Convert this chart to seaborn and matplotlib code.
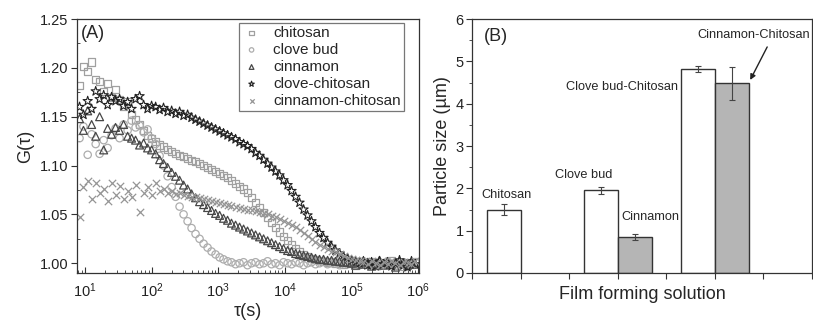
import numpy as np
import pandas as pd
import matplotlib
matplotlib.use("Agg")
import matplotlib.pyplot as plt
from matplotlib.ticker import MultipleLocator, FormatStrFormatter, NullFormatter, LogLocator
import seaborn as sns

# ---------------- data: panel A (correlation functions) ----------------
TAU = [8.3, 9.5, 11.0, 12.6, 14.5, 16.6, 19.1, 21.9, 25.1, 28.8,
       33.1, 38.0, 43.7, 50.1, 57.5, 66.1, 75.9, 87.1, 100, 115,
       132, 151, 174, 200, 229, 263, 302, 347, 398, 457,
       525, 603, 692, 794, 912, 1.05e3, 1.20e3, 1.38e3, 1.58e3, 1.82e3,
       2.09e3, 2.40e3, 2.75e3, 3.16e3, 3.63e3, 4.17e3, 4.79e3, 5.50e3, 6.31e3, 7.24e3,
       8.32e3, 9.55e3, 1.10e4, 1.26e4, 1.45e4, 1.66e4, 1.91e4, 2.19e4, 2.51e4, 2.88e4,
       3.31e4, 3.80e4, 4.37e4, 5.01e4, 5.75e4, 6.61e4, 7.59e4, 8.71e4, 1.00e5, 1.15e5,
       1.32e5, 1.51e5, 1.74e5, 2.00e5, 2.29e5, 2.63e5, 3.02e5, 3.47e5, 3.98e5, 4.57e5,
       5.25e5, 6.03e5, 6.92e5, 7.94e5, 9.12e5]

G_CHITOSAN = [1.182, 1.201, 1.196, 1.206, 1.188, 1.186, 1.176, 1.184, 1.170, 1.178,
              1.168, 1.160, 1.166, 1.152, 1.147, 1.142, 1.136, 1.131, 1.128, 1.125,
              1.121, 1.119, 1.116, 1.114, 1.112, 1.110, 1.109, 1.107, 1.105, 1.104,
              1.102, 1.100, 1.098, 1.096, 1.094, 1.092, 1.090, 1.088, 1.085, 1.082,
              1.079, 1.076, 1.072, 1.067, 1.062, 1.057, 1.052, 1.047, 1.042, 1.037,
              1.032, 1.027, 1.023, 1.019, 1.015, 1.012, 1.009, 1.007, 1.005, 1.004,
              1.003, 1.002, 1.001, 1.002, 1.000, 1.001, 0.999, 1.002, 1.000, 0.998,
              1.001, 1.000, 0.999, 1.002, 0.998, 1.000, 1.001, 0.999, 1.003, 0.998,
              1.000, 0.997, 1.001, 0.999, 1.002]

G_CLOVE = [1.128, 1.140, 1.111, 1.132, 1.122, 1.112, 1.126, 1.118, 1.131, 1.138,
           1.128, 1.142, 1.136, 1.146, 1.139, 1.141, 1.134, 1.137, 1.128, 1.122,
           1.110, 1.100, 1.089, 1.078, 1.068, 1.058, 1.050, 1.043, 1.036, 1.030,
           1.025, 1.020, 1.016, 1.012, 1.009, 1.006, 1.004, 1.002, 1.001, 0.999,
           1.000, 1.001, 0.998, 1.000, 1.001, 0.999, 1.000, 1.002, 0.999, 1.000,
           0.998, 1.001, 1.000, 0.999, 1.001, 1.000, 0.998, 1.000, 1.001, 0.999,
           1.000, 1.002, 0.999, 1.000, 1.001, 0.998, 1.000, 0.999, 1.001, 1.000,
           0.998, 1.002, 1.000, 0.999, 1.001, 0.997, 1.000, 1.002, 0.999, 1.000,
           0.998, 1.001, 1.000, 0.999, 1.001]

G_CINNAMON = [1.148, 1.136, 1.156, 1.142, 1.130, 1.150, 1.116, 1.138, 1.132, 1.139,
              1.136, 1.142, 1.130, 1.128, 1.126, 1.121, 1.123, 1.118, 1.116, 1.112,
              1.106, 1.102, 1.098, 1.093, 1.089, 1.085, 1.080, 1.076, 1.071, 1.067,
              1.063, 1.060, 1.057, 1.054, 1.051, 1.049, 1.046, 1.044, 1.041, 1.039,
              1.037, 1.035, 1.033, 1.031, 1.029, 1.027, 1.025, 1.023, 1.021, 1.019,
              1.017, 1.015, 1.013, 1.012, 1.010, 1.009, 1.008, 1.007, 1.006, 1.005,
              1.004, 1.004, 1.003, 1.003, 1.002, 1.002, 1.001, 1.001, 1.000, 0.998,
              1.002, 0.999, 1.001, 0.997, 1.000, 1.003, 0.998, 1.001, 0.999, 0.996,
              1.002, 1.000, 0.998, 1.001, 0.999]

G_CLOVE_CHITOSAN = [1.160, 1.152, 1.166, 1.158, 1.176, 1.168, 1.172, 1.162, 1.170, 1.166,
                    1.168, 1.161, 1.165, 1.158, 1.168, 1.171, 1.162, 1.158, 1.161, 1.160,
                    1.157, 1.159, 1.155, 1.156, 1.153, 1.155, 1.151, 1.152, 1.149, 1.147,
                    1.145, 1.143, 1.141, 1.139, 1.137, 1.135, 1.133, 1.131, 1.129, 1.127,
                    1.124, 1.122, 1.120, 1.117, 1.113, 1.110, 1.106, 1.102, 1.098, 1.094,
                    1.090, 1.085, 1.080, 1.074, 1.068, 1.062, 1.055, 1.049, 1.043, 1.037,
                    1.031, 1.026, 1.021, 1.017, 1.013, 1.010, 1.007, 1.005, 1.003, 1.002,
                    1.000, 1.002, 0.998, 1.001, 0.997, 1.002, 0.999, 1.001, 0.997, 1.000,
                    1.003, 0.998, 0.996, 1.002, 0.999]

G_CINNAMON_CHITOSAN = [1.047, 1.078, 1.084, 1.066, 1.082, 1.072, 1.076, 1.064, 1.082, 1.070,
                       1.079, 1.066, 1.074, 1.068, 1.080, 1.052, 1.072, 1.078, 1.070, 1.082,
                       1.074, 1.076, 1.072, 1.074, 1.071, 1.072, 1.070, 1.069, 1.068, 1.068,
                       1.067, 1.066, 1.065, 1.064, 1.063, 1.062, 1.061, 1.060, 1.059, 1.058,
                       1.057, 1.056, 1.055, 1.054, 1.053, 1.052, 1.051, 1.050, 1.048, 1.047,
                       1.045, 1.043, 1.041, 1.039, 1.037, 1.034, 1.031, 1.028, 1.025, 1.022,
                       1.019, 1.017, 1.015, 1.013, 1.011, 1.009, 1.007, 1.005, 1.004, 1.003,
                       1.002, 1.001, 0.999, 1.002, 1.000, 0.998, 1.001, 0.999, 1.002, 1.000,
                       0.998, 1.001, 1.000, 0.999, 1.002]

SERIES_NAMES = ["chitosan", "clove bud", "cinnamon", "clove-chitosan", "cinnamon-chitosan"]
SERIES_VALUES = [G_CHITOSAN, G_CLOVE, G_CINNAMON, G_CLOVE_CHITOSAN, G_CINNAMON_CHITOSAN]

# ---------------- data: panel B (particle size) ----------------
BAR_LABELS = ["Chitosan", "Clove bud", "Cinnamon", "Clove bud-Chitosan", "Cinnamon-Chitosan"]
BAR_POS = [0.65, 2.65, 3.35, 4.65, 5.35]
BAR_VALUES = [1.49, 1.95, 0.84, 4.82, 4.48]
BAR_ERR = [0.13, 0.08, 0.07, 0.07, 0.39]
BAR_GROUP = ["plain", "plain", "cinnamon", "plain", "cinnamon"]

# ---------------- style ----------------
sns.set_style("ticks")
plt.rcParams["font.family"] = ["Liberation Sans", "DejaVu Sans"]
plt.rcParams["mathtext.fontset"] = "custom"
plt.rcParams["mathtext.rm"] = "Liberation Sans"
plt.rcParams["mathtext.it"] = "Liberation Sans:italic"
plt.rcParams["axes.edgecolor"] = "#333333"
plt.rcParams["axes.linewidth"] = 0.9
plt.rcParams["xtick.color"] = "#333333"
plt.rcParams["ytick.color"] = "#333333"
plt.rcParams["xtick.labelcolor"] = "#222222"
plt.rcParams["ytick.labelcolor"] = "#222222"

fig = plt.figure(figsize=(8.13, 3.25), dpi=100)
axA = fig.add_axes([0.0947, 0.160, 0.4207, 0.7815])
axB = fig.add_axes([0.5806, 0.160, 0.4180, 0.7815])

# ---------------- panel A ----------------
styles = {
    "chitosan": dict(marker="s", s=26, facecolor="none", edgecolor="#a0a0a0", linewidth=0.9),
    "clove bud": dict(marker="o", s=28, facecolor="none", edgecolor="#adadad", linewidth=0.9),
    "cinnamon": dict(marker="^", s=32, facecolor="none", edgecolor="#474747", linewidth=0.9),
    "clove-chitosan": dict(marker="*", s=48, facecolor="none", edgecolor="#222222", linewidth=0.8),
    "cinnamon-chitosan": dict(marker="x", s=28, color="#959595", linewidth=0.9),
}
for name, vals in zip(SERIES_NAMES, SERIES_VALUES):
    df = pd.DataFrame({"tau": TAU, "G": vals})
    sns.scatterplot(data=df, x="tau", y="G", ax=axA, label=name, **styles[name])

axA.set_xscale("log")
axA.set_xlim(7.6, 1.03e6)
axA.set_ylim(0.99, 1.25)
axA.yaxis.set_major_locator(MultipleLocator(0.05))
axA.yaxis.set_minor_locator(MultipleLocator(0.025))
axA.yaxis.set_major_formatter(FormatStrFormatter("%.2f"))
axA.xaxis.set_major_locator(LogLocator(base=10, numticks=10))
axA.xaxis.set_minor_locator(LogLocator(base=10, subs=np.arange(2, 10), numticks=20))
axA.xaxis.set_minor_formatter(NullFormatter())
axA.tick_params(axis="x", which="major", direction="in", length=4, width=0.8, labelsize=10.5, pad=6)
axA.tick_params(axis="x", which="minor", direction="in", length=2, width=0.6)
axA.tick_params(axis="y", which="major", direction="out", length=4, width=0.8, labelsize=10.5, pad=2)
axA.tick_params(axis="y", which="minor", direction="in", length=2, width=0.6)
axA.set_xlabel("τ(s)", fontsize=13, labelpad=2)
axA.set_ylabel("G(τ)", fontsize=13, labelpad=4)
for sp in axA.spines.values():
    sp.set_visible(True)
axA.text(0.012, 0.975, "(A)", transform=axA.transAxes, fontsize=13, va="top", ha="left")
leg = axA.legend(loc="upper right", bbox_to_anchor=(0.955, 0.985), fontsize=11,
                 frameon=True, fancybox=False, edgecolor="#777777", framealpha=1,
                 borderpad=0.2, labelspacing=0.2, handlelength=1.2, handletextpad=0.8,
                 markerscale=0.6, borderaxespad=0)
leg.get_frame().set_linewidth(0.9)

# ---------------- panel B ----------------
dfb = pd.DataFrame({"pos": BAR_POS, "size": BAR_VALUES, "group": BAR_GROUP, "label": BAR_LABELS})
sns.barplot(data=dfb, x="pos", y="size", hue="group", native_scale=True, dodge=False,
            width=1.0, palette={"plain": "white", "cinnamon": "#b5b5b5"},
            edgecolor="#333333", linewidth=1.0, errorbar=None, legend=False, ax=axB)
axB.errorbar(BAR_POS, BAR_VALUES, yerr=BAR_ERR, fmt="none", ecolor="#444444",
             elinewidth=0.8, capsize=2.5, capthick=0.8)

axB.set_xlim(0, 7)
axB.set_ylim(0, 6)
axB.set_xticks(range(0, 8))
axB.set_xticklabels([])
axB.yaxis.set_major_locator(MultipleLocator(1))
axB.yaxis.set_minor_locator(MultipleLocator(0.5))
axB.tick_params(axis="x", which="major", direction="out", length=4, width=0.8)
axB.tick_params(axis="y", which="major", direction="out", length=4, width=0.8, labelsize=10.5, pad=2)
axB.tick_params(axis="y", which="minor", direction="out", length=2, width=0.6)
axB.set_xlabel("Film forming solution", fontsize=13, labelpad=2)
axB.set_ylabel("Particle size (µm)", fontsize=13, labelpad=3)
for sp in axB.spines.values():
    sp.set_visible(True)
axB.text(0.035, 0.965, "(B)", transform=axB.transAxes, fontsize=13, va="top", ha="left")

fs = 9.2
axB.text(0.72, 1.84, BAR_LABELS[0], fontsize=fs, ha="center", va="center")
axB.text(2.29, 2.32, BAR_LABELS[1], fontsize=fs, ha="center", va="center")
axB.text(3.67, 1.32, BAR_LABELS[2], fontsize=fs, ha="center", va="center")
axB.text(3.08, 4.40, BAR_LABELS[3], fontsize=fs, ha="center", va="center")
axB.text(5.80, 5.63, BAR_LABELS[4], fontsize=fs, ha="center", va="center")
axB.annotate("", xy=(5.73, 4.56), xytext=(6.08, 5.34),
             arrowprops=dict(arrowstyle="-|>", color="#222222", lw=1.0,
                             mutation_scale=8, shrinkA=0, shrinkB=0))

fig.savefig("out.png", dpi=100)
